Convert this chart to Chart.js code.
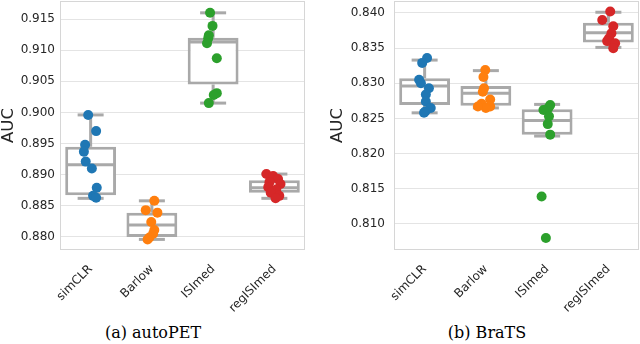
<!DOCTYPE html>
<html>
<head>
<meta charset="utf-8">
<script src="https://cdn.jsdelivr.net/npm/chart.js@4.4.0/dist/chart.umd.min.js"></script>
<style>
body { margin:0; background:#fff; width:640px; height:344px; overflow:hidden; position:relative; }
.pane { position:absolute; top:0; width:320px; height:320px; }
.cap { position:absolute; top:323px; font-family:"DejaVu Serif", serif; font-size:16px; color:#000; white-space:nowrap; transform:translateX(-50%); }
</style>
</head>
<body>
<div class="pane" style="left:0"><canvas id="petChart"></canvas></div>
<div class="pane" style="left:320px"><canvas id="bratsChart"></canvas></div>
<div class="cap" style="left:153px">(a) autoPET</div>
<div class="cap" style="left:487px">(b) BraTS</div>
<script>
var categories = ['simCLR', 'Barlow', 'ISImed', 'regISImed'];
var colors = ['#1f77b4', '#ff7f0e', '#2ca02c', '#d62728'];
var boxGray = '#a9a9a9';

// autoPET: AUC per run, and strip jitter (fraction of a category slot)
var petSimclr = [0.8996, 0.8970, 0.8948, 0.8937, 0.8921, 0.8910, 0.8879, 0.8866, 0.8863];
var petSimclrJit = [-0.04, 0.09, -0.09, -0.11, -0.08, 0.02, 0.10, 0.04, 0.09];
var petBarlow = [0.8858, 0.8843, 0.8839, 0.8824, 0.8811, 0.8805, 0.8799, 0.8796];
var petBarlowJit = [0.04, -0.10, 0.09, -0.01, 0.04, 0.02, -0.04, -0.07];
var petIsimed = [0.9160, 0.9139, 0.9124, 0.9119, 0.9111, 0.9087, 0.9031, 0.9028, 0.9015];
var petIsimedJit = [-0.05, -0.01, -0.07, -0.08, -0.10, 0.06, 0.06, 0.01, -0.07];
var petReg = [0.8901, 0.8898, 0.8893, 0.8888, 0.8885, 0.8880, 0.8876, 0.8871, 0.8866, 0.8862];
var petRegJit = [-0.13, -0.02, 0.06, -0.08, 0.10, -0.10, 0.03, -0.06, 0.08, 0.02];
// autoPET box stats
var petMin = [0.8862, 0.8796, 0.9015, 0.8862];
var petQ1 = [0.8867, 0.8800, 0.9045, 0.8871];
var petMed = [0.8916, 0.8819, 0.9113, 0.8879];
var petQ3 = [0.8945, 0.8839, 0.9120, 0.8891];
var petMax = [0.8996, 0.8858, 0.9160, 0.8901];
var petTicks = [0.880, 0.885, 0.890, 0.895, 0.900, 0.905, 0.910, 0.915];

// BraTS
var brSimclr = [0.8336, 0.8329, 0.8305, 0.8300, 0.8293, 0.8284, 0.8274, 0.8265, 0.8260, 0.8258];
var brSimclrJit = [0.04, -0.04, -0.09, -0.06, 0.07, 0.02, 0.02, 0.10, 0.01, -0.01];
var brBarlow = [0.8319, 0.8309, 0.8293, 0.8288, 0.8277, 0.8271, 0.8267, 0.8265, 0.8267];
var brBarlowJit = [-0.01, -0.04, -0.03, -0.05, 0.07, -0.07, 0.07, 0.00, -0.13];
var brIsimed = [0.8269, 0.8265, 0.8262, 0.8253, 0.8242, 0.8227, 0.8139, 0.8080];
var brIsimedJit = [0.05, 0.02, -0.06, 0.03, 0.01, 0.05, -0.09, -0.02];
var brReg = [0.8402, 0.8390, 0.8381, 0.8371, 0.8364, 0.8360, 0.8357, 0.8350];
var brRegJit = [0.03, -0.10, 0.08, 0.05, 0.01, -0.02, 0.11, 0.08];
var brMin = [0.8258, 0.8265, 0.8225, 0.8351];
var brQ1 = [0.8269, 0.8268, 0.8227, 0.8358];
var brMed = [0.8296, 0.8286, 0.8247, 0.8372];
var brQ3 = [0.8307, 0.8296, 0.8263, 0.8386];
var brMax = [0.8333, 0.8318, 0.8270, 0.8401];
var brTicks = [0.810, 0.815, 0.820, 0.825, 0.830, 0.835, 0.840];

Chart.defaults.font.family = 'DejaVu Sans';
Chart.defaults.color = '#262626';

// light frame round the plot area (seaborn whitegrid look)
var framePlugin = {
  id: 'frame',
  beforeDatasetsDraw: function(chart) {
    var a = chart.chartArea, c = chart.ctx;
    c.save();
    c.strokeStyle = '#d6d6d6';
    c.lineWidth = 1;
    c.strokeRect(a.left + 0.5, a.top + 0.5, a.width - 1, a.height - 1);
    c.restore();
  }
};

function buildChart(id, runs, jits, st, ticks, yMin, yMax, pad, yWidth, tickPad) {
  var ds = [];
  runs.forEach(function(vals, i) {
    ds.push({
      type: 'scatter',
      data: vals.map(function(v, k) { return {x: i + jits[i][k], y: v}; }),
      pointBackgroundColor: colors[i],
      pointBorderWidth: 0,
      pointRadius: 5,
      order: 0
    });
  });
  var caps = [], whisk = [], meds = [];
  categories.forEach(function(c, i) {
    caps.push({x: i, y: st.max[i]}, {x: i, y: st.min[i]});
    meds.push({x: i, y: st.med[i]});
    whisk.push({x: i, y: st.q3[i]}, {x: i, y: st.max[i]}, {x: i, y: null},
               {x: i, y: st.q1[i]}, {x: i, y: st.min[i]}, {x: i, y: null});
  });
  ds.push({type: 'scatter', data: meds, pointStyle: 'line', pointRadius: 24,
           pointBorderColor: boxGray, pointBorderWidth: 3, order: 1});
  ds.push({type: 'scatter', data: caps, pointStyle: 'line', pointRadius: 13,
           pointBorderColor: boxGray, pointBorderWidth: 3, order: 1});
  ds.push({type: 'line', data: whisk, showLine: true, spanGaps: false, pointRadius: 0,
           borderColor: boxGray, borderWidth: 3, order: 2});
  ds.push({type: 'bar',
           data: categories.map(function(c, i) { return {x: i, y: [st.q1[i], st.q3[i]]}; }),
           backgroundColor: '#ffffff', borderColor: boxGray, borderWidth: 3, borderSkipped: false,
           barPercentage: 0.83, categoryPercentage: 1, order: 3});

  return new Chart(document.getElementById(id), {
    type: 'scatter',
    data: {datasets: ds},
    plugins: [framePlugin],
    options: {
      responsive: true,
      maintainAspectRatio: false,
      animation: false,
      events: [],
      layout: {padding: pad, autoPadding: false},
      plugins: {legend: {display: false}, tooltip: {enabled: false}},
      scales: {
        x: {
          type: 'linear', min: -0.5, max: 3.5, offset: false,
          grid: {display: false}, border: {display: false},
          afterBuildTicks: function(s) { s.ticks = categories.map(function(c, i) { return {value: i}; }); },
          afterFit: function(s) { s.height = 70; },
          ticks: {autoSkip: false, minRotation: 45, maxRotation: 45, padding: 4,
                  font: {size: 12},
                  callback: function(v) { return categories[Math.round(v)]; }}
        },
        y: {
          type: 'linear', min: yMin, max: yMax,
          grid: {color: '#e4e4e4', drawTicks: false}, border: {display: false},
          afterBuildTicks: function(s) { s.ticks = ticks.map(function(v) { return {value: v}; }); },
          afterFit: function(s) { s.width = yWidth; s.paddingTop = 0; s.paddingBottom = 0; },
          ticks: {padding: tickPad, font: {size: 12},
                  callback: function(v) { return v.toFixed(3); }},
          title: {display: true, text: 'AUC', padding: 0, font: {size: 16.5, lineHeight: 1}}
        }
      }
    }
  });
}

buildChart('petChart',
  [petSimclr, petBarlow, petIsimed, petReg],
  [petSimclrJit, petBarlowJit, petIsimedJit, petRegJit],
  {min: petMin, q1: petQ1, med: petMed, q3: petQ3, max: petMax},
  petTicks, 0.8779, 0.9179, {top: 1, right: 15, left: 0, bottom: 0}, 60, 5);

buildChart('bratsChart',
  [brSimclr, brBarlow, brIsimed, brReg],
  [brSimclrJit, brBarlowJit, brIsimedJit, brRegJit],
  {min: brMin, q1: brQ1, med: brMed, q3: brQ3, max: brMax},
  brTicks, 0.8063, 0.8417, {top: 1, right: 1, left: 9, bottom: 0}, 65, 9);
</script>
</body>
</html>
